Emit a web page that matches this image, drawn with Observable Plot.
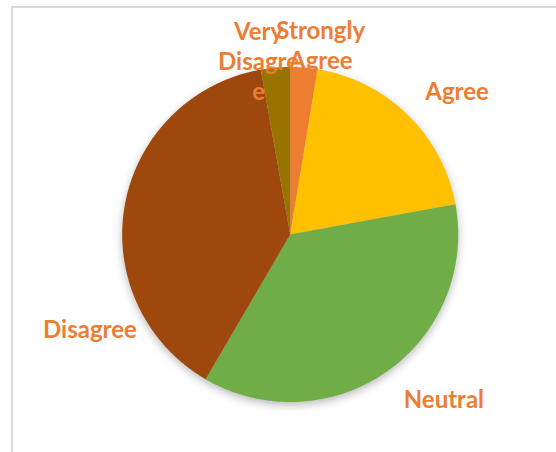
<!DOCTYPE html>
<html><head><meta charset="utf-8">
<script src="https://cdn.jsdelivr.net/npm/d3@7"></script>
<script src="https://cdn.jsdelivr.net/npm/@observablehq/plot@0.6"></script>
<style>
html,body{margin:0;padding:0;background:#fff;overflow:hidden;width:556px;height:452px}
#frame{position:absolute;left:11px;top:6px;width:700px;height:600px;border-top:2px solid #dadada;border-left:2px solid #dadada;box-sizing:border-box}
#chart{position:absolute;left:0;top:0}
#chart g[aria-label="line"]{filter:drop-shadow(0px 3px 4px rgba(0,0,0,0.28))}
</style></head><body><div id="frame"></div><div id="chart"></div>
<script>
// Data (percent of respondents), clockwise from 12 o'clock
const categories = ["Strongly Agree", "Agree", "Neutral", "Disagree", "Very Disagree"];
const values = [2.6, 19.5, 36.3, 38.8, 2.8];
const labelTexts = ["Strongly\nAgree", "Agree", "Neutral", "Disagree", "Very\nDisagre\ne"];
const colors = ["#ED7D31", "#FFC000", "#70AD47", "#9E480E", "#997300"];
// label placement (angle in degrees clockwise from top, distance in radii)
const labelAngle = [9.2, 49.5, 137.3, 244.3, 349.6];
const labelDist = [1.137, 1.306, 1.349, 1.323, 1.044];

const total = d3.sum(values);
const pts = [];
let acc = 0;
categories.forEach((c, i) => {
  const a0 = acc / total * 2 * Math.PI;
  acc += values[i];
  const a1 = acc / total * 2 * Math.PI;
  pts.push({cat: c, x: 0, y: 0});
  const n = Math.max(2, Math.ceil((a1 - a0) / (Math.PI / 360)));
  for (let k = 0; k <= n; k++) {
    const a = a0 + (a1 - a0) * k / n;
    pts.push({cat: c, x: Math.sin(a), y: Math.cos(a)});
  }
});
const labels = categories.map((c, i) => {
  const a = labelAngle[i] * Math.PI / 180;
  return {cat: c, text: labelTexts[i], x: labelDist[i] * Math.sin(a), y: labelDist[i] * Math.cos(a)};
});

const chart = Plot.plot({
  width: 556, height: 452,
  marginLeft: 121.7, marginRight: 98.3, marginTop: 66.5, marginBottom: 50.5,
  x: {domain: [-1, 1], axis: null},
  y: {domain: [-1, 1], axis: null},
  color: {domain: categories, range: colors},
  style: {background: "transparent", overflow: "visible"},
  marks: [
    Plot.line(pts, {x: "x", y: "y", z: "cat", fill: "cat", stroke: "none", curve: "linear-closed"}),
    Plot.text(labels, {x: "x", y: "y", text: "text", dy: -2, fill: "#ED7D31", fontSize: 24, fontWeight: "bold", fontFamily: "Lato", lineHeight: 1.25})
  ]
});
document.getElementById("chart").appendChild(chart);
</script></body></html>
